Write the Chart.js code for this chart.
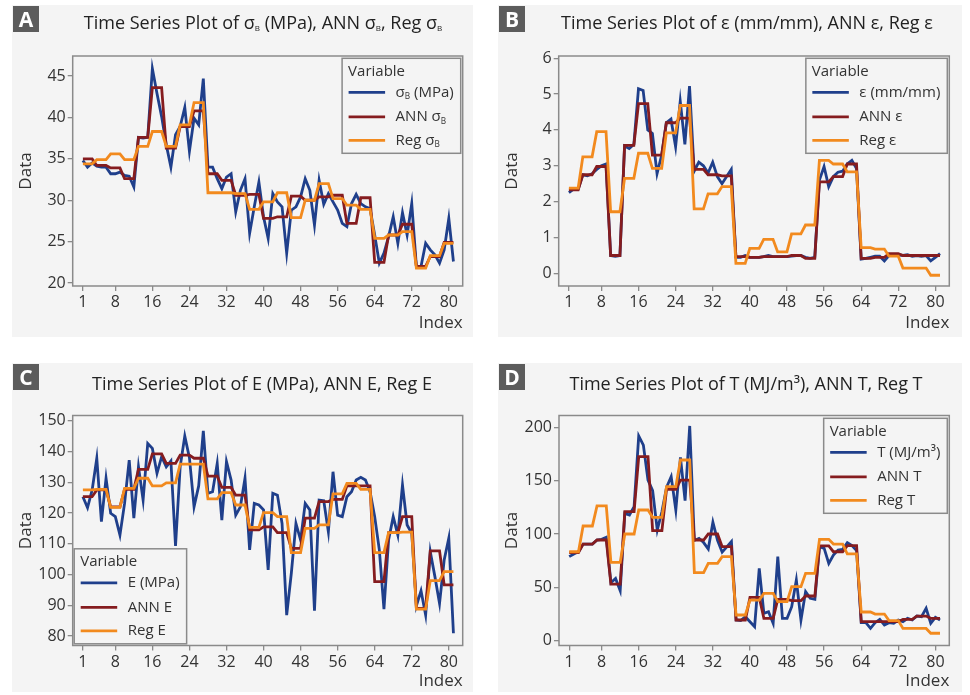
<!DOCTYPE html>
<html>
<head>
<meta charset="utf-8">
<script src="https://cdn.jsdelivr.net/npm/chart.js@4.4.1/dist/chart.umd.min.js"></script>
<style>
  html, body { margin: 0; padding: 0; background: #ffffff; }
  body { width: 970px; height: 695px; position: relative; overflow: hidden; font-family: "Open Sans", "Noto Sans", sans-serif; }
  .panel { position: absolute; background: #f4f4f4; }
  .panel canvas { position: absolute; left: 0; top: 0; }
  .tag { position: absolute; left: 1px; top: 1px; width: 26px; height: 26px; background: #5c5c5c; color: #fff;
         font: bold 21px "Open Sans", sans-serif; line-height: 26px; text-align: center; }
  .title { position: absolute; transform: translate(-50%, -50%); white-space: nowrap; font-size: 18px; color: #222; }
  .title sub { font-size: 8px; vertical-align: -2px; }
</style>
</head>
<body>
<script>
// Sample index (x axis) and tick positions
const indexTicks = [1, 8, 16, 24, 32, 40, 48, 56, 64, 72, 80];

// Tensile strength sigma_B (MPa)
const strengthObs = [
  34.8, 34.0, 34.5, 34.1, 34.0, 34.0, 33.2, 33.2, 33.4, 33.0,
  32.9, 31.6, 37.6, 37.5, 37.6, 45.9, 42.9, 40.1, 36.7, 34.0,
  37.9, 38.9, 41.2, 35.9, 39.9, 39.1, 44.7, 34.0, 34.0, 32.6,
  31.4, 32.8, 33.2, 28.6, 31.2, 32.6, 26.0, 29.2, 32.2, 28.0,
  25.4, 30.8, 29.8, 29.2, 23.6, 28.8, 29.2, 30.4, 32.6, 31.2,
  27.0, 32.4, 29.5, 30.8, 29.8, 28.8, 27.2, 26.8, 29.6, 30.7,
  29.6, 29.2, 29.0, 25.8, 22.4, 23.6, 25.6, 28.0, 24.8, 28.5,
  25.8, 29.6, 22.0, 22.0, 24.8, 24.0, 23.4, 22.4, 24.0, 27.8,
  22.6
];
const strengthANN = [
  35.0, 35.0, 35.0, 34.2, 34.2, 34.2, 33.9, 33.9, 33.9,
  32.6, 32.6, 32.6, 37.6, 37.6, 37.6, 43.6, 43.6, 43.6,
  36.3, 36.3, 36.3, 38.9, 38.9, 38.9, 40.8, 40.8, 40.8,
  33.2, 33.2, 33.2, 32.4, 32.4, 32.4, 30.6, 30.6, 30.6,
  30.7, 30.7, 30.7, 27.8, 27.8, 27.8, 28.0, 28.0, 28.0,
  30.5, 30.5, 30.5, 30.0, 30.0, 30.0, 30.4, 30.4, 30.4,
  30.6, 30.6, 30.6, 27.2, 27.2, 27.2, 30.3, 30.3, 30.3,
  22.5, 22.5, 22.5, 25.8, 25.8, 25.8, 27.1, 27.1, 27.1,
  22.0, 22.0, 22.0, 23.2, 23.2, 23.2, 24.9, 24.9, 24.9
];
const strengthReg = [
  34.4, 34.4, 34.4, 34.9, 34.9, 34.9, 35.6, 35.6, 35.6,
  34.9, 34.9, 34.9, 36.5, 36.5, 36.5, 38.3, 38.3, 38.3,
  36.5, 36.5, 36.5, 39.1, 39.1, 39.1, 41.8, 41.8, 41.8,
  30.9, 30.9, 30.9, 30.9, 30.9, 30.9, 30.8, 30.8, 30.8,
  28.9, 28.9, 28.9, 29.8, 29.8, 29.8, 30.9, 30.9, 30.9,
  27.9, 27.9, 27.9, 30.0, 30.0, 30.0, 32.0, 32.0, 32.0,
  30.2, 30.2, 30.2, 29.4, 29.4, 29.4, 28.9, 28.9, 28.9,
  25.4, 25.4, 25.4, 25.8, 25.8, 25.8, 26.2, 26.2, 26.2,
  21.8, 21.8, 21.8, 23.3, 23.3, 23.3, 24.8, 24.8, 24.8
];
const strengthTicks = [20, 25, 30, 35, 40, 45];

// Strain epsilon (mm/mm)
const strainObs = [
  2.25, 2.35, 2.35, 2.75, 2.72, 2.78, 2.90, 3.00, 3.05, 0.50,
  0.48, 0.50, 3.55, 3.48, 3.60, 5.15, 5.10, 4.00, 3.90, 2.78,
  3.30, 4.20, 4.30, 3.53, 4.80, 3.60, 5.22, 2.85, 3.10, 3.00,
  2.80, 3.10, 2.70, 2.50, 2.70, 2.90, 0.45, 0.45, 0.50, 0.45,
  0.45, 0.45, 0.47, 0.50, 0.47, 0.47, 0.47, 0.47, 0.48, 0.50,
  0.50, 0.45, 0.42, 0.45, 2.60, 2.98, 2.42, 2.70, 2.82, 2.85,
  3.05, 3.15, 2.92, 0.40, 0.42, 0.45, 0.48, 0.48, 0.35, 0.50,
  0.50, 0.52, 0.50, 0.52, 0.48, 0.50, 0.48, 0.50, 0.35, 0.45,
  0.55
];
const strainANN = [
  2.33, 2.33, 2.33, 2.75, 2.75, 2.75, 2.98, 2.98, 2.98,
  0.50, 0.50, 0.50, 3.57, 3.57, 3.57, 4.73, 4.73, 4.73,
  3.30, 3.30, 3.30, 4.20, 4.20, 4.20, 4.33, 4.33, 4.33,
  2.90, 2.90, 2.90, 2.75, 2.75, 2.75, 2.72, 2.72, 2.72,
  0.47, 0.47, 0.47, 0.45, 0.45, 0.45, 0.47, 0.47, 0.47,
  0.47, 0.47, 0.47, 0.50, 0.50, 0.50, 0.42, 0.42, 0.42,
  2.55, 2.55, 2.55, 2.70, 2.70, 2.70, 3.05, 3.05, 3.05,
  0.42, 0.42, 0.42, 0.45, 0.45, 0.45, 0.55, 0.55, 0.55,
  0.50, 0.50, 0.50, 0.50, 0.50, 0.50, 0.50, 0.50, 0.50
];
const strainReg = [
  2.38, 2.38, 2.38, 3.25, 3.25, 3.25, 3.95, 3.95, 3.95,
  1.72, 1.72, 1.72, 2.65, 2.65, 2.65, 3.35, 3.35, 3.35,
  2.93, 2.93, 2.93, 3.92, 3.92, 3.92, 4.68, 4.68, 4.68,
  1.80, 1.80, 1.80, 2.22, 2.22, 2.22, 2.42, 2.42, 2.42,
  0.28, 0.28, 0.28, 0.70, 0.70, 0.70, 0.95, 0.95, 0.95,
  0.60, 0.60, 0.60, 1.10, 1.10, 1.10, 1.35, 1.35, 1.35,
  3.15, 3.15, 3.15, 3.05, 3.05, 3.05, 2.83, 2.83, 2.83,
  0.72, 0.72, 0.72, 0.68, 0.68, 0.68, 0.48, 0.48, 0.48,
  0.15, 0.15, 0.15, 0.15, 0.15, 0.15, -0.05, -0.05, -0.05
];
const strainTicks = [0, 1, 2, 3, 4, 5, 6];

// Elastic modulus E (MPa)
const modulusObs = [
  125.3, 121.7, 127.5, 137.8, 117.2, 131.3, 119.9, 118.8, 112.8, 123.1,
  137.2, 118.3, 135.0, 124.2, 142.6, 141.0, 132.9, 138.3, 135.0, 136.9,
  109.3, 135.0, 145.0, 138.0, 122.0, 128.8, 146.7, 126.4, 126.9, 136.1,
  117.7, 136.7, 130.7, 119.3, 122.0, 131.3, 108.0, 123.1, 122.6, 121.0,
  101.5, 126.4, 125.8, 116.6, 86.8, 100.4, 116.6, 111.2, 123.1, 121.0,
  88.2, 124.2, 124.0, 113.9, 133.4, 119.3, 118.8, 125.3, 126.9, 130.7,
  131.6, 130.7, 126.9, 118.8, 108.0, 88.7, 111.2, 118.8, 112.8, 129.1,
  116.1, 113.4, 89.8, 94.7, 86.8, 107.4, 99.3, 90.6, 104.7, 111.8,
  80.9
];
const modulusANN = [
  125.3, 125.3, 125.3, 127.5, 127.5, 127.5, 122.0, 122.0, 122.0,
  127.7, 127.7, 127.7, 134.2, 134.2, 134.2, 139.2, 139.2, 139.2,
  136.1, 136.1, 136.1, 138.8, 138.8, 138.8, 137.8, 137.8, 137.8,
  132.0, 132.0, 132.0, 128.3, 128.3, 128.3, 125.8, 125.8, 125.8,
  114.5, 114.5, 114.5, 115.5, 115.5, 115.5, 113.6, 113.6, 113.6,
  108.5, 108.5, 108.5, 118.3, 118.3, 118.3, 123.7, 123.7, 123.7,
  124.4, 124.4, 124.4, 128.8, 128.8, 128.8, 128.8, 128.8, 128.8,
  97.7, 97.7, 97.7, 113.6, 113.6, 113.6, 118.8, 118.8, 118.8,
  89.0, 89.0, 89.0, 107.7, 107.7, 107.7, 96.6, 96.6, 96.6
];
const modulusReg = [
  127.5, 127.5, 127.5, 127.7, 127.7, 127.7, 121.8, 121.8, 121.8,
  128.0, 128.0, 128.0, 131.3, 131.3, 131.3, 128.8, 128.8, 128.8,
  129.8, 129.8, 129.8, 135.9, 135.9, 135.9, 135.9, 135.9, 135.9,
  124.6, 124.6, 124.6, 126.6, 126.6, 126.6, 122.6, 122.6, 122.6,
  115.3, 115.3, 115.3, 120.1, 120.1, 120.1, 118.8, 118.8, 118.8,
  107.1, 107.1, 107.1, 115.0, 115.0, 115.0, 116.1, 116.1, 116.1,
  126.2, 126.2, 126.2, 129.6, 129.6, 129.6, 127.7, 127.7, 127.7,
  107.1, 107.1, 107.1, 113.6, 113.6, 113.6, 113.8, 113.8, 113.8,
  88.7, 88.7, 88.7, 98.0, 98.0, 98.0, 100.9, 100.9, 100.9
];
const modulusTicks = [80, 90, 100, 110, 120, 130, 140, 150];

// Toughness T (MJ/m3)
const toughnessObs = [
  78.8, 81.3, 83.4, 90.6, 90.6, 90.6, 94.4, 95.0, 96.9, 54.4,
  58.4, 46.9, 119.4, 117.8, 125.6, 191.9, 183.4, 150.6, 140.6, 103.8,
  120.9, 143.8, 153.8, 122.5, 171.9, 131.3, 201.3, 94.0, 96.0, 92.0,
  86.0, 111.0, 94.0, 83.0, 88.0, 93.0, 19.4, 18.8, 22.5, 17.8,
  13.1, 67.8, 25.6, 27.2, 16.3, 78.8, 21.0, 21.0, 31.9, 56.9,
  19.4, 46.0, 39.7, 38.8, 88.1, 86.6, 72.5, 80.3, 85.0, 85.6,
  91.9, 89.1, 84.4, 16.9, 16.9, 11.6, 16.9, 20.0, 14.7, 16.9,
  16.3, 19.4, 17.8, 21.0, 19.4, 23.1, 22.5, 30.3, 16.3, 21.9,
  19.4
];
const toughnessANN = [
  82.5, 82.5, 82.5, 90.6, 90.6, 90.6, 94.4, 94.4, 94.4,
  53.1, 53.1, 53.1, 120.9, 120.9, 120.9, 172.5, 172.5, 172.5,
  103.1, 103.1, 103.1, 141.9, 141.9, 141.9, 150.6, 150.6, 150.6,
  94.4, 94.4, 94.4, 100.0, 100.0, 100.0, 88.1, 88.1, 88.1,
  19.4, 19.4, 19.4, 40.6, 40.6, 40.6, 21.0, 21.0, 21.0,
  38.8, 38.8, 38.8, 37.5, 37.5, 37.5, 41.9, 41.9, 41.9,
  88.8, 88.8, 88.8, 83.4, 83.4, 83.4, 89.1, 89.1, 89.1,
  17.8, 17.8, 17.8, 17.8, 17.8, 17.8, 17.8, 17.8, 17.8,
  20.0, 20.0, 20.0, 23.1, 23.1, 23.1, 21.0, 21.0, 21.0
];
const toughnessReg = [
  83.4, 83.4, 83.4, 107.5, 107.5, 107.5, 126.3, 126.3, 126.3,
  73.4, 73.4, 73.4, 100.0, 100.0, 100.0, 122.5, 122.5, 122.5,
  115.6, 115.6, 115.6, 144.4, 144.4, 144.4, 169.4, 169.4, 169.4,
  63.8, 63.8, 63.8, 72.5, 72.5, 72.5, 78.8, 78.8, 78.8,
  24.1, 24.1, 24.1, 38.1, 38.1, 38.1, 44.4, 44.4, 44.4,
  36.6, 36.6, 36.6, 50.6, 50.6, 50.6, 63.1, 63.1, 63.1,
  95.0, 95.0, 95.0, 90.6, 90.6, 90.6, 81.3, 81.3, 81.3,
  26.9, 26.9, 26.9, 25.0, 25.0, 25.0, 18.8, 18.8, 18.8,
  11.5, 11.5, 11.5, 11.5, 11.5, 11.5, 7.0, 7.0, 7.0
];
const toughnessTicks = [0, 50, 100, 150, 200];

// Series names ("_X" marks a subscript character)
const strengthLabels = ['σ_B (MPa)', 'ANN σ_B', 'Reg σ_B'];
const strainLabels = ['ε (mm/mm)', 'ANN ε', 'Reg ε'];
const modulusLabels = ['E (MPa)', 'ANN E', 'Reg E'];
const toughnessLabels = ['T (MJ/m³)', 'ANN T', 'Reg T'];

const seriesColors = ['#1f3f8b', '#851c1f', '#f28a1e'];
const FAMILY = '"Open Sans", "Noto Sans", sans-serif';
const PANEL_BG = '#f4f4f4';
const FRAME = '#8a8a8a';
const TEXT = '#333333';

Chart.defaults.font.family = FAMILY;
Chart.defaults.color = TEXT;

// Split a label into normal and subscript runs
function richParts(text) {
  const parts = [];
  const re = /_(\S)/g;
  let last = 0, m;
  while ((m = re.exec(text))) {
    if (m.index > last) parts.push({ t: text.slice(last, m.index), sub: false });
    parts.push({ t: m[1], sub: true });
    last = re.lastIndex;
  }
  if (last < text.length) parts.push({ t: text.slice(last), sub: false });
  return parts;
}
function richWidth(ctx, text, size) {
  let w = 0;
  for (const p of richParts(text)) {
    ctx.font = `${p.sub ? size * 0.55 : size}px ${FAMILY}`;
    w += ctx.measureText(p.t).width;
  }
  return w;
}
function drawRich(ctx, text, x, y, size) {
  ctx.textBaseline = 'middle';
  ctx.textAlign = 'left';
  for (const p of richParts(text)) {
    const s = p.sub ? size * 0.55 : size;
    ctx.font = `${s}px ${FAMILY}`;
    ctx.fillText(p.t, x, p.sub ? y + size * 0.3 : y);
    x += ctx.measureText(p.t).width;
  }
}
function richHTML(text) {
  return richParts(text).map(p => p.sub ? `<sub>${p.t}</sub>` : p.t).join('');
}

// Box around the plotting area
const frameBox = {
  id: 'frameBox',
  afterDatasetsDraw(chart) {
    const { ctx, chartArea: a } = chart;
    ctx.save();
    ctx.strokeStyle = FRAME;
    ctx.lineWidth = 1.5;
    ctx.strokeRect(a.left, a.top, a.right - a.left, a.bottom - a.top);
    ctx.restore();
  }
};

// "Variable" legend box
const variableLegend = {
  id: 'variableLegend',
  afterDraw(chart, args, opts) {
    const { ctx, chartArea: a } = chart;
    const sets = chart.data.datasets;
    const size = 15;
    const textX = 53.5;
    let maxW = 0;
    sets.forEach(ds => { maxW = Math.max(maxW, richWidth(ctx, ds.label, size)); });
    const w = textX + maxW + 7;
    const h = 95;
    let left, top;
    if (opts.corner === 'bl') { left = a.left + 1.5; top = a.bottom - 1.7 - h; }
    else { left = a.right - 2 - w; top = a.top + opts.dy; }
    ctx.save();
    ctx.fillStyle = PANEL_BG;
    ctx.fillRect(left, top, w, h);
    ctx.strokeStyle = FRAME;
    ctx.lineWidth = 1.5;
    ctx.strokeRect(left, top, w, h);
    ctx.fillStyle = TEXT;
    ctx.font = `${size}px ${FAMILY}`;
    ctx.textBaseline = 'middle';
    ctx.textAlign = 'left';
    ctx.fillText('Variable', left + 6, top + 13);
    const rows = [34, 58.5, 82];
    sets.forEach((ds, k) => {
      const y = top + rows[k];
      ctx.strokeStyle = ds.borderColor;
      ctx.lineWidth = 2.8;
      ctx.beginPath();
      ctx.moveTo(left + 6.5, y);
      ctx.lineTo(left + 43, y);
      ctx.stroke();
      ctx.fillStyle = TEXT;
      drawRich(ctx, ds.label, left + textX, y, size);
    });
    ctx.restore();
  }
};

const panels = [
  { tag: 'A', box: [12, 5, 461, 332], area: { left: 60.7, top: 51, right: 10.3, bottom: 51 },
    yMin: 19.64, yMax: 47.42, yTicks: strengthTicks, labels: strengthLabels,
    series: [strengthObs, strengthANN, strengthReg], title: 'Time Series Plot of σ_B (MPa), ANN σ_B, Reg σ_B',
    titleAt: [263, 22], legend: { corner: 'tr', dy: 2.3 }, xTitlePad: 4 },
  { tag: 'B', box: [498, 5, 464, 332], area: { left: 60.7, top: 51, right: 12.7, bottom: 51 },
    yMin: -0.35, yMax: 6.06, yTicks: strainTicks, labels: strainLabels,
    series: [strainObs, strainANN, strainReg], title: 'Time Series Plot of ε (mm/mm), ANN ε, Reg ε',
    titleAt: [747, 22], legend: { corner: 'tr', dy: 2.3 }, xTitlePad: 4 },
  { tag: 'C', box: [12, 363, 461, 329], area: { left: 60.7, top: 52.5, right: 10.3, bottom: 46.5 },
    yMin: 76.9, yMax: 151.7, yTicks: modulusTicks, labels: modulusLabels,
    series: [modulusObs, modulusANN, modulusReg], title: 'Time Series Plot of E (MPa), ANN E, Reg E',
    titleAt: [262, 383], legend: { corner: 'bl' }, xTitlePad: 1 },
  { tag: 'D', box: [498, 363, 464, 329], area: { left: 61, top: 52.5, right: 12.7, bottom: 46.5 },
    yMin: -4.5, yMax: 211.1, yTicks: toughnessTicks, labels: toughnessLabels,
    series: [toughnessObs, toughnessANN, toughnessReg], title: 'Time Series Plot of T (MJ/m³), ANN T, Reg T',
    titleAt: [746, 383], legend: { corner: 'tr', dy: 2.8 }, xTitlePad: 1 }
];

panels.forEach(p => {
  const [px, py, pw, ph] = p.box;
  const div = document.createElement('div');
  div.className = 'panel';
  Object.assign(div.style, { left: px + 'px', top: py + 'px', width: pw + 'px', height: ph + 'px' });
  const canvas = document.createElement('canvas');
  canvas.width = pw; canvas.height = ph;
  canvas.style.width = pw + 'px'; canvas.style.height = ph + 'px';
  div.appendChild(canvas);
  const tag = document.createElement('div');
  tag.className = 'tag';
  tag.textContent = p.tag;
  div.appendChild(tag);
  document.body.appendChild(div);

  const title = document.createElement('div');
  title.className = 'title';
  title.innerHTML = richHTML(p.title);
  title.style.left = p.titleAt[0] + 'px';
  title.style.top = p.titleAt[1] + 'px';
  document.body.appendChild(title);

  const datasets = p.series.map((vals, k) => ({
    label: p.labels[k],
    data: vals.map((v, i) => ({ x: i + 1, y: v })),
    borderColor: seriesColors[k],
    backgroundColor: seriesColors[k],
    borderWidth: 2.8,
    pointRadius: 0,
    tension: 0,
    fill: false,
    order: 3 - k
  }));

  const axisGrid = { drawOnChartArea: false, drawTicks: true, tickLength: 5, color: FRAME, lineWidth: 1.3 };

  new Chart(canvas, {
    type: 'line',
    data: { datasets },
    options: {
      responsive: false,
      animation: false,
      devicePixelRatio: 1,
      layout: { padding: { left: 0, top: p.area.top, right: p.area.right, bottom: 0 } },
      plugins: {
        legend: { display: false },
        tooltip: { enabled: false },
        variableLegend: p.legend
      },
      scales: {
        x: {
          type: 'linear', min: -1.2, max: 83.0,
          afterBuildTicks: s => { s.ticks = indexTicks.map(v => ({ value: v })); },
          afterFit: s => { s.height = p.area.bottom; },
          grid: axisGrid,
          border: { display: false },
          ticks: { font: { size: 16 }, color: TEXT, padding: 2, maxRotation: 0, autoSkip: false },
          title: { display: true, text: 'Index', align: 'end', font: { size: 17 }, color: TEXT,
                   padding: { top: 0, bottom: p.xTitlePad } }
        },
        y: {
          min: p.yMin, max: p.yMax,
          afterBuildTicks: s => { s.ticks = p.yTicks.map(v => ({ value: v })); },
          afterFit: s => { s.width = p.area.left; },
          grid: axisGrid,
          border: { display: false },
          ticks: { font: { size: 16 }, color: TEXT, padding: 2, autoSkip: false },
          title: { display: true, text: 'Data', font: { size: 17 }, color: TEXT, padding: { top: 4, bottom: 0 } }
        }
      }
    },
    plugins: [frameBox, variableLegend]
  });
});
</script>
</body>
</html>
